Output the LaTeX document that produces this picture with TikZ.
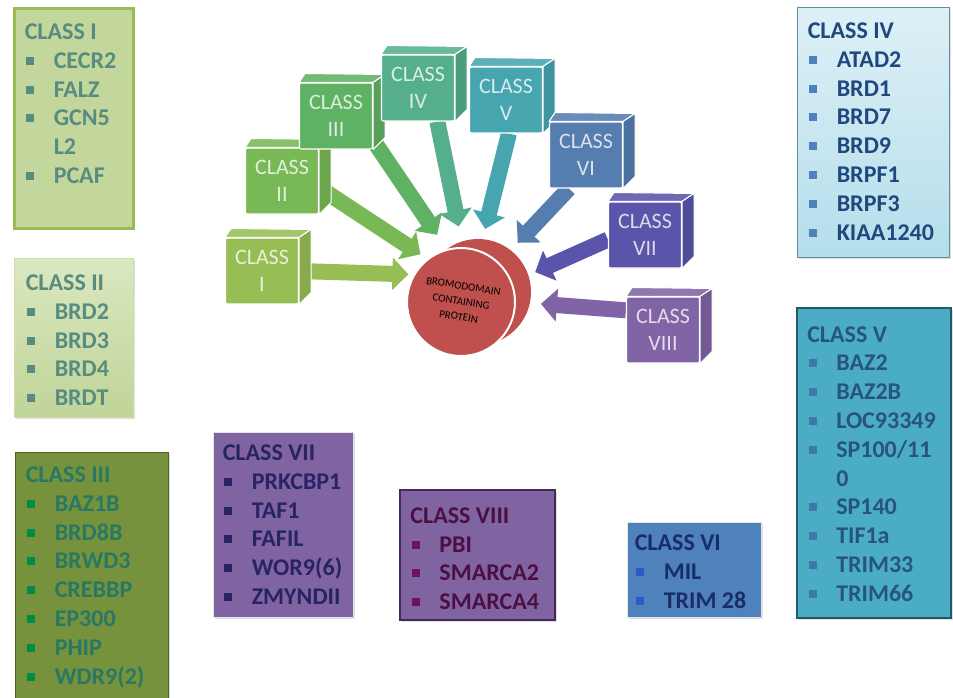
\documentclass[tikz,border=0pt]{standalone}
\usepackage{fontspec}
\setmainfont{Carlito}
\definecolor{cl1}{RGB}{150,190,85}
\definecolor{cl2}{RGB}{120,185,85}
\definecolor{cl3}{RGB}{95,178,100}
\definecolor{cl4}{RGB}{85,175,140}
\definecolor{cl5}{RGB}{70,165,175}
\definecolor{cl6}{RGB}{85,125,175}
\definecolor{cl7}{RGB}{90,85,170}
\definecolor{cl8}{RGB}{128,100,165}
\definecolor{discred}{RGB}{192,80,77}
\definecolor{box1}{RGB}{195,214,155}
\definecolor{box1line}{RGB}{155,187,89}
\definecolor{box2top}{RGB}{218,232,192}
\definecolor{box2bot}{RGB}{192,212,152}
\definecolor{box3}{RGB}{118,146,60}
\definecolor{box3line}{RGB}{79,98,40}
\definecolor{box4top}{RGB}{222,240,246}
\definecolor{box4bot}{RGB}{180,222,236}
\definecolor{box4line}{RGB}{100,140,160}
\definecolor{box5}{RGB}{75,172,198}
\definecolor{box5line}{RGB}{33,89,104}
\definecolor{box6}{RGB}{79,129,189}
\definecolor{box7}{RGB}{128,100,162}
\definecolor{box8line}{RGB}{70,40,90}
\definecolor{txt1}{RGB}{88,140,128}
\definecolor{txt3}{RGB}{40,120,100}
\definecolor{bul3}{RGB}{0,140,70}
\definecolor{txt4}{RGB}{31,73,125}
\definecolor{bul4}{RGB}{79,129,189}
\definecolor{txt5}{RGB}{40,85,125}
\definecolor{bul5}{RGB}{60,120,170}
\definecolor{txt6}{RGB}{25,45,105}
\definecolor{bul6}{RGB}{40,90,200}
\definecolor{txt7}{RGB}{40,35,100}
\definecolor{txt8}{RGB}{75,15,65}
\definecolor{bul8}{RGB}{110,20,95}
\colorlet{bulcol}{black}
\newcommand\itm[1]{\makebox[21.75pt][l]{\hspace{1pt}\textcolor{bulcol}{\rule[2.6pt]{6pt}{6pt}}}#1}
\usetikzlibrary{
  positioning,
  fit,          % list boxes from their corners
  shadows,
  arrows.meta
}
\tikzset{
  listbox/.style = {rectangle, inner sep=0pt, line width=0.75pt,
    drop shadow={opacity=0.25, shadow xshift=1.5pt, shadow yshift=-1.5pt}},
  listtext/.style = {anchor=north west, inner sep=0pt, align=left,
    font=\fontsize{18}{21.6}\selectfont\bfseries},
  bul/.code = {\colorlet{bulcol}{#1}},
  cubefront/.style = {rectangle, rounded corners=1.5pt, minimum width=54.75pt,
    minimum height=49.5pt, draw=white, line width=0.8pt, align=center,
    font=\fontsize{16.5}{20}\selectfont},
  cubeface/.style = {draw=white, line width=0.8pt, line join=round},
  protein/.style = {circle, fill=discred, draw=white, line width=1.5pt,
    minimum size=81pt, inner sep=0pt, font=\fontsize{8.2}{11.5}\selectfont},
  bigarrow/.style = {line width=12pt, -{Triangle[length=12pt, width=24pt]}}
}
\pgfdeclarelayer{background}
\pgfsetlayers{background,main}
\begin{document}
\begin{tikzpicture}[x=0.75pt, y=-0.75pt]
\useasboundingbox (0,0) rectangle (953,697);

% lists of the classes
\node[listbox, fit={(14,8) (133,228)}, fill=box1, draw=box1line, line width=2.25pt] (l1) {};
\node[listtext, text=txt1, bul=txt1] (t1) at ([shift={(12,17)}]l1.north west)
  {CLASS I\\ \itm{CECR2}\\ \itm{FALZ}\\ \itm{GCN5}\\ \makebox[21.75pt]{}L2\\ \itm{PCAF}};

\node[listbox, fit={(14,258) (133,417)}, top color=box2top, bottom color=box2bot, draw=box2top!80!box1line] (l2) {};
\node[listtext, text=txt1, bul=txt1] (t2) at ([shift={(12,17)}]l2.north west)
  {CLASS II\\ \itm{BRD2}\\ \itm{BRD3}\\ \itm{BRD4}\\ \itm{BRDT}};

\node[listbox, fit={(15,452) (168,704)}, fill=box3, draw=box3line] (l3) {};
\node[listtext, text=txt3, bul=bul3] (t3) at ([shift={(11,15)}]l3.north west)
  {CLASS III\\ \itm{BAZ1B}\\ \itm{BRD8B}\\ \itm{BRWD3}\\ \itm{CREBBP}\\ \itm{EP300}\\ \itm{PHIP}\\ \itm{WDR9(2)}};

\node[listbox, fit={(797,7) (949,257)}, top color=box4top, bottom color=box4bot, draw=box4line] (l4) {};
\node[listtext, text=txt4, bul=bul4] (t4) at ([shift={(11,16)}]l4.north west)
  {CLASS IV\\ \itm{ATAD2}\\ \itm{BRD1}\\ \itm{BRD7}\\ \itm{BRD9}\\ \itm{BRPF1}\\ \itm{BRPF3}\\ \itm{KIAA1240}};

\node[listbox, fit={(797,308) (951,618)}, fill=box5, draw=box5line, line width=1.5pt] (l5) {};
\node[listtext, text=txt5, bul=bul5] (t5) at ([shift={(11,19)}]l5.north west)
  {CLASS V\\ \itm{BAZ2}\\ \itm{BAZ2B}\\ \itm{LOC93349}\\ \itm{SP100/11}\\ \makebox[21.75pt]{}0\\ \itm{SP140}\\ \itm{TIF1a}\\ \itm{TRIM33}\\ \itm{TRIM66}};

\node[listbox, fit={(627,522) (761,617)}, fill=box6, draw=white!90!black] (l6) {};
\node[listtext, text=txt6, bul=bul6] (t6) at ([shift={(8,13)}]l6.north west)
  {CLASS VI\\ \itm{MIL}\\ \itm{TRIM 28}};

\node[listbox, fit={(213,432) (353,617)}, fill=box7, draw=white!90!black] (l7) {};
\node[listtext, text=txt7, bul=txt7] (t7) at ([shift={(10,13)}]l7.north west)
  {CLASS VII\\ \itm{PRKCBP1}\\ \itm{TAF1}\\ \itm{FAFIL}\\ \itm{WOR9(6)}\\ \itm{ZMYNDII}};

\node[listbox, fit={(400,490) (555,620)}, fill=box7, draw=box8line, line width=1.2pt] (l8) {};
\node[listtext, text=txt8, bul=bul8] (t8) at ([shift={(11,18)}]l8.north west)
  {CLASS VIII\\ \itm{PBI}\\ \itm{SMARCA2}\\ \itm{SMARCA4}};

% the cubes
\foreach \cname/\cx/\cy/\col/\lab in {cI/262/271/cl1/I, cII/282/181/cl2/II,
    cIII/336/116/cl3/III, cIV/418/88/cl4/IV, cV/506/100/cl5/V,
    cVI/586/155/cl6/VI, cVII/645/235/cl7/VII, cVIII/663/330/cl8/VIII}{
  \node[cubefront, fill=\col, text=\col!22!white] (\cname) at (\cx,\cy) {CLASS\\\lab};
  \filldraw[cubeface, fill=\col!88!white] (\cname.north west) -- ++(6,-9)
    -- ([shift={(12,-8)}]\cname.north east) -- (\cname.north east) -- cycle;
  \filldraw[cubeface, fill=\col!90!black] (\cname.north east)
    -- ([shift={(12,-8)}]\cname.north east) -- ([shift={(12,-12)}]\cname.south east)
    -- (\cname.south east) -- cycle;
}

% the protein
\fill[discred] (478,292) circle (53);
\node[protein] (prot) at (461,302)
  {\rotatebox{-9}{\begin{tabular}{@{}c@{}}BROMODOMAIN\\CONTAINING\\PROTEIN\end{tabular}}};

\begin{pgfonlayer}{background}
  \draw[bigarrow, cl1, shorten >=3.75pt] (cI.0) -- (prot.150);
  \draw[bigarrow, cl2, shorten >=6pt] (cII.-10) -- (prot.128);
  \draw[bigarrow, cl3, shorten >=12.75pt] (cIII.-33) -- (prot.105);
  \draw[bigarrow, cl4, shorten >=15.75pt] (cIV.-60) -- (prot.88);
  \draw[bigarrow, cl5, shorten >=16.5pt] (cV.-85) -- (prot.70);
  \draw[bigarrow, cl6, shorten >=20.25pt] (cVI.-117) -- (prot.46);
  \draw[bigarrow, cl7, shorten >=18.75pt] (cVII.187) -- (prot.21);
  \draw[bigarrow, cl8, shorten >=18.75pt] (cVIII.152) -- (prot.0);
\end{pgfonlayer}
\end{tikzpicture}
\end{document}
